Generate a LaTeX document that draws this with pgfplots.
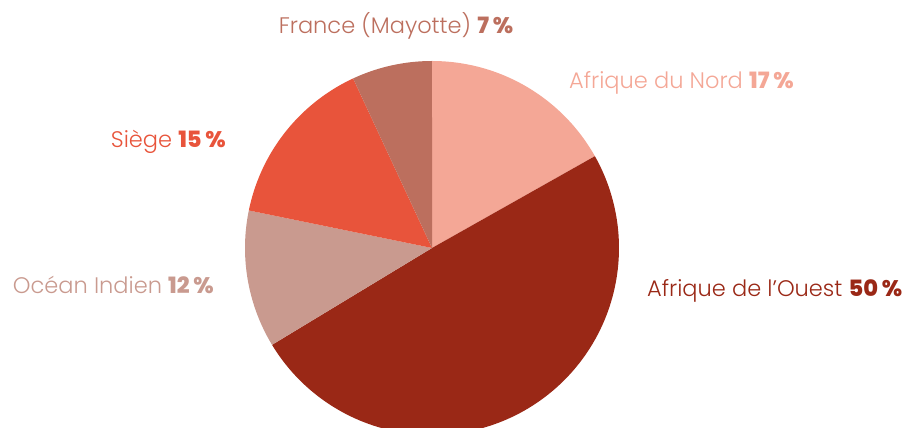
\documentclass[border=0pt]{standalone}
\usepackage{pgfplots}
\pgfplotsset{compat=1.18}
\usepackage{fontspec}
\setmainfont{Poppins}[UprightFont={* Light}, BoldFont={* ExtraBold}]
\definecolor{cNord}{HTML}{F4A796}
\definecolor{cOuest}{HTML}{9A2816}
\definecolor{cOcean}{HTML}{C99A8F}
\definecolor{cSiege}{HTML}{E8543B}
\definecolor{cMay}{HTML}{BC6F5E}
% shares (percent, as printed)
\def\vNord{17}\def\vOuest{50}\def\vOcean{12}\def\vSiege{15}\def\vMay{7}
\pgfmathsetmacro{\tot}{\vNord+\vOuest+\vOcean+\vSiege+\vMay}
\pgfmathsetmacro{\deg}{360/\tot}
\pgfmathsetmacro{\aA}{90}
\pgfmathsetmacro{\aB}{\aA-\deg*\vNord}
\pgfmathsetmacro{\aC}{\aB-\deg*\vOuest}
\pgfmathsetmacro{\aD}{\aC-\deg*\vOcean}
\pgfmathsetmacro{\aE}{\aD-\deg*\vSiege}
\pgfmathsetmacro{\aF}{\aE-\deg*\vMay}
\begin{document}
\begin{tikzpicture}
\useasboundingbox (0,0) rectangle (911pt,428pt);
\begin{axis}[x=1pt, y=1pt, xmin=0, xmax=911, ymin=0, ymax=428,
  at={(0,0)}, anchor=south west,
  hide axis, clip=true, samples=120]
\addplot[draw=none, fill=cNord, domain=\aA:\aB] ({432+187*cos(x)},{180+187*sin(x)}) -- (axis cs:432,180) -- cycle;
\addplot[draw=none, fill=cOuest, domain=\aB:\aC] ({432+187*cos(x)},{180+187*sin(x)}) -- (axis cs:432,180) -- cycle;
\addplot[draw=none, fill=cOcean, domain=\aC:\aD] ({432+187*cos(x)},{180+187*sin(x)}) -- (axis cs:432,180) -- cycle;
\addplot[draw=none, fill=cSiege, domain=\aD:\aE] ({432+187*cos(x)},{180+187*sin(x)}) -- (axis cs:432,180) -- cycle;
\addplot[draw=none, fill=cMay, domain=\aE:\aF] ({432+187*cos(x)},{180+187*sin(x)}) -- (axis cs:432,180) -- cycle;
\node[anchor=base, text=cMay, font=\fontsize{22.5}{26}\selectfont, inner sep=0pt] at (axis cs:396,394) {France (Mayotte) \textbf{\vMay\,\%}};
\node[anchor=base west, text=cNord, font=\fontsize{22.5}{26}\selectfont, inner sep=0pt] at (axis cs:569,339) {Afrique du Nord \textbf{\vNord\,\%}};
\node[anchor=base east, text=cSiege, font=\fontsize{22.5}{26}\selectfont, inner sep=0pt] at (axis cs:226,280) {Siège \textbf{\vSiege\,\%}};
\node[anchor=base east, text=cOcean, font=\fontsize{22.5}{26}\selectfont, inner sep=0pt] at (axis cs:214,134) {Océan Indien \textbf{\vOcean\,\%}};
\node[anchor=base west, text=cOuest, font=\fontsize{22.5}{26}\selectfont, inner sep=0pt] at (axis cs:647,131) {Afrique de l’Ouest \textbf{\vOuest\,\%}};
\end{axis}
\end{tikzpicture}
\end{document}
